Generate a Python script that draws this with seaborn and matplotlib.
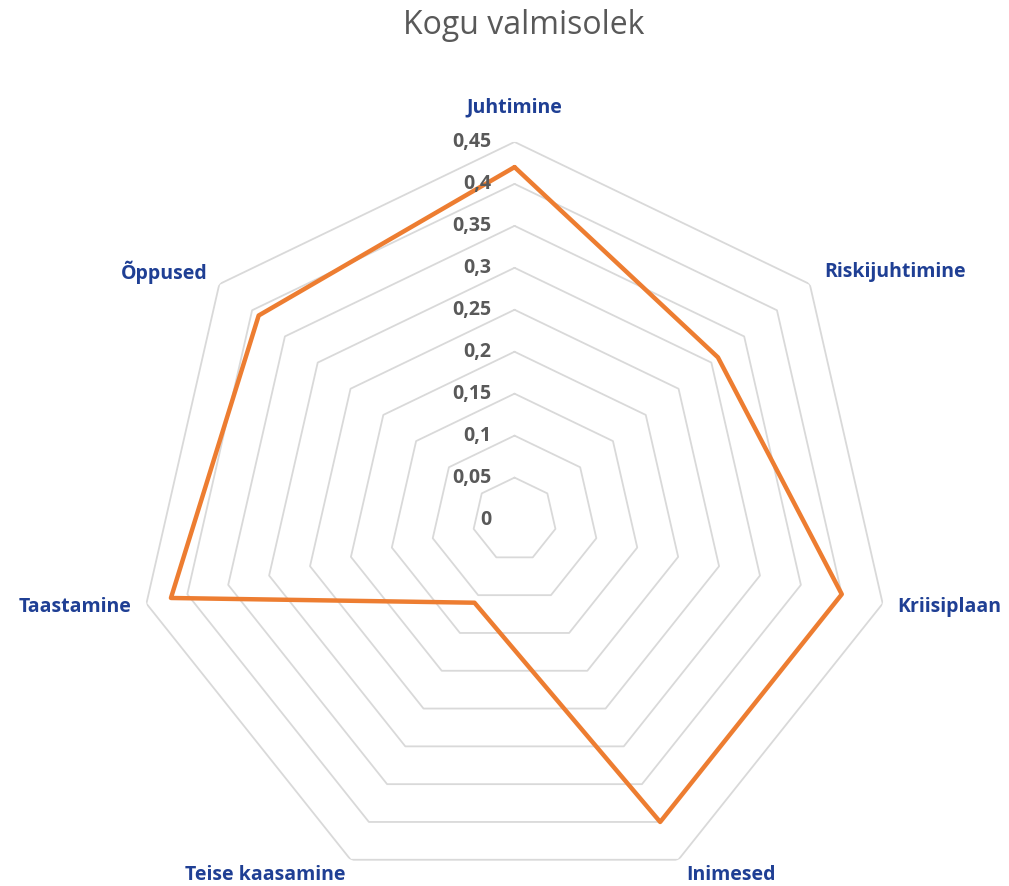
import numpy as np
import matplotlib
matplotlib.use('Agg')
import matplotlib.pyplot as plt
import seaborn as sns

# Data
categories = ['Juhtimine', 'Riskijuhtimine', 'Kriisiplaan', 'Inimesed',
              'Teise kaasamine', 'Taastamine', 'Õppused']
values = [0.42, 0.31, 0.40, 0.40, 0.11, 0.42, 0.39]
ring_levels = [0.05, 0.10, 0.15, 0.20, 0.25, 0.30, 0.35, 0.40, 0.45]
tick_values = [0, 0.05, 0.10, 0.15, 0.20, 0.25, 0.30, 0.35, 0.40, 0.45]
tick_labels = ['0', '0,05', '0,1', '0,15', '0,2', '0,25', '0,3', '0,35', '0,4', '0,45']

sns.set_theme(style='white')
plt.rcParams['font.family'] = ['Open Sans', 'DejaVu Sans']

fig = plt.figure(figsize=(10.09, 8.86), dpi=100)
ax = fig.add_axes([0.1357, -0.0126, 0.7485, 0.8524], projection='polar')
ax.set_theta_zero_location('N')
ax.set_theta_direction(-1)
ax.set_ylim(0, 0.45)
ax.grid(False)
ax.set_xticks([])
ax.set_yticks([])
ax.spines['polar'].set_visible(False)
ax.patch.set_alpha(0)

n = len(categories)
theta = np.linspace(0, 2 * np.pi, n, endpoint=False)
theta_closed = np.append(theta, 2 * np.pi)

# Heptagon gridlines
for lvl in ring_levels:
    ax.plot(theta_closed, [lvl] * (n + 1), color='#D9D9D9', lw=1.3, zorder=1)

# Data line
vals_closed = values + [values[0]]
sns.lineplot(x=theta_closed, y=vals_closed, sort=False, estimator=None,
             ax=ax, color='#ED7D31', lw=3.2, zorder=3)

# Radial tick labels
for v, lab in zip(tick_values, tick_labels):
    ax.annotate(lab, xy=(0, v), xytext=(-23, 0), textcoords='offset pixels',
                ha='right', va='center', fontsize=14, fontweight='bold',
                color='#595959', annotation_clip=False, zorder=4)

# Category labels
offsets = [(0, 34, 'center'), (14, 12, 'left'), (15, -3, 'left'), (8, -15, 'left'),
           (-5, -15, 'right'), (-15, -3, 'right'), (-12, 12, 'right')]
for t, lab, (dx, dy, ha) in zip(theta, categories, offsets):
    ax.annotate(lab, xy=(t, 0.45), xytext=(dx, dy), textcoords='offset pixels',
                ha=ha, va='center', fontsize=14, fontweight='bold',
                color='#1F3F94', annotation_clip=False)

fig.text(0.519, 1 - 26 / 886, 'Kogu valmisolek', ha='center', va='center',
         fontsize=23, color='#595959')

fig.savefig('out.png', dpi=100, facecolor='white')
